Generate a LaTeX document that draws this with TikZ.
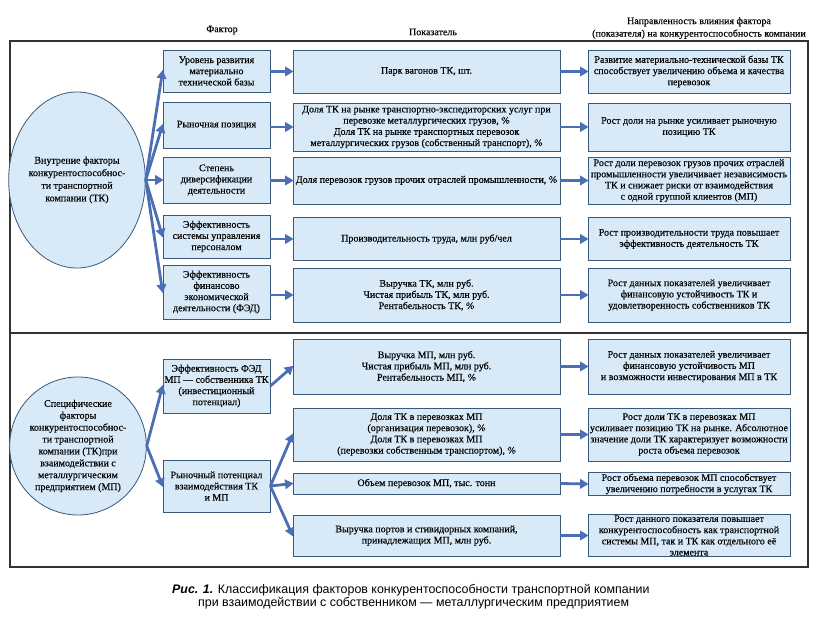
\documentclass[tikz,border=0pt]{standalone}
\usepackage{fontspec}
\setmainfont{Liberation Serif}[FakeBold=0.3]
\newfontfamily\capfont{Liberation Sans}
\usetikzlibrary{arrows.meta,shapes.geometric}
\definecolor{boxfill}{HTML}{D8EAF8}
\definecolor{boxline}{HTML}{3A5877}
\definecolor{arrcol}{HTML}{4A6FB4}
\definecolor{framecol}{HTML}{333333}
\tikzset{
  fbox/.style={draw=boxline, fill=boxfill, line width=0.8pt, align=center, inner sep=1pt,
    font=\fontsize{10}{11.2}\selectfont, text=black},
  oval/.style={ellipse, draw=boxline, fill=boxfill, line width=0.8pt, align=center, inner sep=0pt,
    font=\fontsize{10}{12.6}\selectfont},
  arr/.style={draw=arrcol, line width=2.8pt, -{Triangle[length=8.5pt,width=9.5pt]}, shorten >=-1pt},
  hdr/.style={font=\fontsize{10}{12.5}\selectfont, align=center},
}
\newcommand{\bx}[6]{% name, cx, cy, w, h, text
  \node[fbox, minimum width=#4pt, minimum height=#5pt] (#1) at (#2,#3) {#6};}
\begin{document}
\begin{tikzpicture}[x=1pt,y=-1pt]
\useasboundingbox (0,0) rectangle (823,628);
\fill[white] (0,0) rectangle (823,628);
% headers
\node[hdr] (h1) at (222,30) {Фактор};
\node[hdr] (h2) at (433,32) {Показатель};
\node[hdr] (h3) at (699,28) {Направленность влияния фактора\\(показателя) на конкурентоспособность компании};
% frame
\draw[framecol, line width=1.2pt] (10,41) rectangle (808,567);
\draw[framecol, line width=1.2pt] (10,333) -- (808,333);
% ===== top block
\node[oval, minimum width=108pt, minimum height=176pt] (e1) at (77,180)
  {Внутрение факторы\\конкурентоспособнос-\\ти транспортной\\компании (ТК)};
\bx{f1}{216.5}{71}{107}{42}{Уровень развития\\материально\\технической базы}
\bx{f2}{216.5}{125}{107}{46}{Рыночная позиция}
\bx{f3}{216.5}{180}{107}{46}{Степень\\диверсификации\\деятельности}
\bx{f4}{216.5}{236.5}{107}{43}{Эффективность\\системы управления\\персоналом}
\bx{f5}{216.5}{292}{107}{54}{Эффективность\\финансово\\экономической\\деятельности (ФЭД)}
\bx{p1}{426.5}{71.5}{267}{43}{Парк вагонов ТК, шт.}
\bx{p2}{426.5}{127}{267}{48}{Доля ТК на рынке транспортно-экспедиторских услуг при\\перевозке металлургических грузов, \%\\Доля ТК на рынке транспортных перевозок\\металлургических грузов (собственный транспорт), \%}
\bx{p3}{426.5}{180.5}{267}{47}{Доля перевозок грузов прочих отраслей промышленности, \%}
\bx{p4}{426.5}{239}{267}{43}{Производительность труда, млн руб/чел}
\bx{p5}{426.5}{295}{267}{54}{Выручка ТК, млн руб.\\Чистая прибыль ТК, млн руб.\\Рентабельность ТК, \%}
\bx{r1}{689}{71.5}{202}{43}{Развитие материально-технической базы ТК\\способствует увеличению объема и качества\\перевозок}
\bx{r2}{689}{127}{202}{48}{Рост доли на рынке усиливает рыночную\\позицию ТК}
\bx{r3}{689}{180.5}{202}{47}{Рост доли перевозок грузов прочих отраслей\\промышленности увеличивает независимость\\ТК и снижает риски от взаимодействия\\с одной группой клиентов (МП)}
\bx{r4}{689}{239}{202}{43}{Рост производительности труда повышает\\эффективность деятельность ТК}
\bx{r5}{689}{295}{202}{54}{Рост данных показателей увеличивает\\финансовую устойчивость ТК и\\удовлетворенность собственников ТК}
\foreach \i in {1,...,5} {
  \draw[arr] (e1.east) -- (f\i.west);
  \draw[arr] (f\i.east |- p\i.west) -- (p\i.west);
  \draw[arr] (p\i.east) -- (r\i.west);
}
% ===== bottom block
\node[oval, minimum width=108pt, minimum height=138pt, font=\fontsize{10}{11.9}\selectfont] (e2) at (78,446)
  {Специфические\\факторы\\конкурентоспособнос-\\ти транспортной\\компании (ТК)при\\взаимодействии с\\металлургическим\\предприятием (МП)};
\bx{ga}{216.5}{386}{107}{54}{Эффективность ФЭД\\МП — собственника ТК\\(инвестиционный\\потенциал)}
\bx{gb}{216.5}{486}{107}{52}{Рыночный потенциал\\взаимодействия ТК\\и МП}
\bx{q1}{426.5}{366.5}{267}{55}{Выручка МП, млн руб.\\Чистая прибыль МП, млн руб.\\Рентабельность МП, \%}
\bx{q2}{426.5}{434.5}{267}{53}{Доля ТК в перевозках МП\\(организация перевозок), \%\\Доля ТК в перевозках МП\\(перевозки собственным транспортом), \%}
\bx{q3}{426.5}{483.5}{267}{21}{Объем перевозок МП, тыс. тонн}
\bx{q4}{426.5}{535.5}{267}{41}{Выручка портов и стивидорных компаний,\\принадлежащих МП, млн руб.}
\bx{s1}{689}{366.5}{202}{55}{Рост данных показателей увеличивает\\финансовую устойчивость МП\\и возможности инвестирования МП в ТК}
\bx{s2}{689}{434.5}{202}{53}{Рост доли ТК в перевозках МП\\усиливает позицию ТК на рынке. Абсолютное\\значение доли ТК характеризует возможности\\роста объема перевозок}
\bx{s3}{689}{484}{202}{21}{Рост объема перевозок МП способствует\\увеличению потребности в услугах ТК}
\bx{s4}{689}{535.5}{202}{41}{Рост данного показателя повышает\\конкурентоспособность как транспортной\\системы МП, так и ТК как отдельного её\\элемента}
\draw[arr] (e2.east) -- (ga.west);
\draw[arr] (e2.east) -- (gb.west);
\draw[arr] (ga.east) -- (q1.west);
\draw[arr] (gb.east) -- (q2.west);
\draw[arr] (gb.east) -- (q3.west);
\draw[arr] (gb.east) -- (q4.west);
\foreach \i in {1,...,4} { \draw[arr] (q\i.east) -- (s\i.west); }
% caption
\node[anchor=west, inner sep=0pt, font=\capfont\fontsize{12.4}{13}\selectfont] (c1) at (172,590)
  {\textbf{\textit{Рис. 1.}} Классификация факторов конкурентоспособности транспортной компании};
\node[anchor=west, inner sep=0pt, font=\capfont\fontsize{12.4}{13}\selectfont] (c2) at (198,603)
  {при взаимодействии с собственником — металлургическим предприятием};
\end{tikzpicture}
\end{document}
